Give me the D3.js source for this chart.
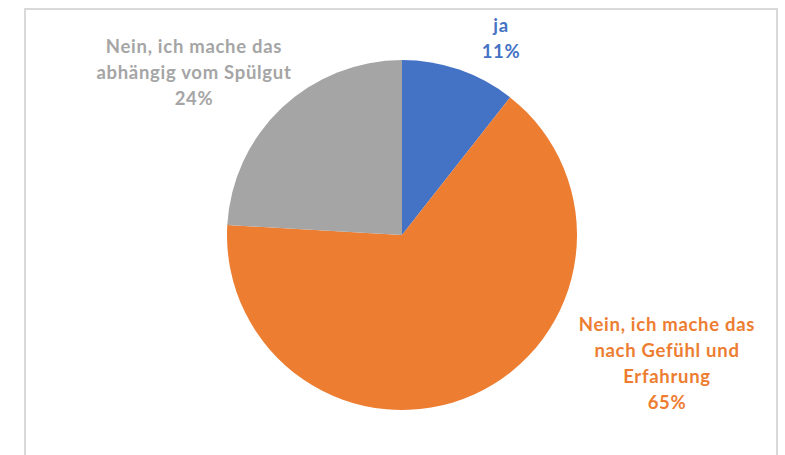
<!DOCTYPE html>
<html>
<head>
<meta charset="utf-8">
<script src="https://cdn.jsdelivr.net/npm/d3@7"></script>
<style>
  body { margin: 0; background: #fff; }
  svg { display: block; }
</style>
</head>
<body>
<div id="chart"></div>
<script>
// data
var categories = ["ja", "Nein, ich mache das nach Gefühl und Erfahrung", "Nein, ich mache das abhängig vom Spülgut"];
var values = [10.6, 65.3, 24.1];
var percentLabels = ["11%", "65%", "24%"];
var labelLines = [
    ["ja"],
    ["Nein, ich mache das", "nach Gefühl und", "Erfahrung"],
    ["Nein, ich mache das", "abhängig vom Spülgut"]
];
var colors = ["#4472C4", "#ED7D31", "#A5A5A5"];

// sizes
var svgW = 785, svgH = 455;
var cx = 402, cy = 235, radius = 175;
// label anchor (centre x, first line y) per slice
var labelPos = [[501, 32], [667, 331], [194, 53]];
var lineH = 26;

var svg = d3.select("#chart").append("svg")
    .attr("width", svgW).attr("height", svgH);

// chart frame
svg.append("rect")
    .attr("x", 25).attr("y", 9)
    .attr("width", 752).attr("height", 470)
    .attr("fill", "#fff")
    .attr("stroke", "#d9d9d9")
    .attr("stroke-width", 2);

var pie = d3.pie().sort(null).value(function(d){ return d; });
var arc = d3.arc().innerRadius(0).outerRadius(radius);

var g = svg.append("g").attr("transform", "translate(" + cx + "," + cy + ")");
g.selectAll("path")
    .data(pie(values))
    .enter().append("path")
    .attr("d", arc)
    .attr("fill", function(d, i){ return colors[i]; });

// labels
var labels = svg.selectAll("text.lbl")
    .data(categories)
    .enter().append("text")
    .attr("class", "lbl")
    .attr("text-anchor", "middle")
    .attr("font-family", "Lato, 'Open Sans', sans-serif")
    .attr("font-weight", "bold")
    .attr("font-size", 18.5)
    .attr("letter-spacing", 0.7)
    .attr("fill", function(d, i){ return colors[i]; });

labels.each(function(d, i){
    var t = d3.select(this);
    var lines = labelLines[i].concat([percentLabels[i]]);
    lines.forEach(function(line, j){
        t.append("tspan")
            .attr("x", labelPos[i][0])
            .attr("y", labelPos[i][1] + j * lineH)
            .text(line);
    });
});
</script>
</body>
</html>
